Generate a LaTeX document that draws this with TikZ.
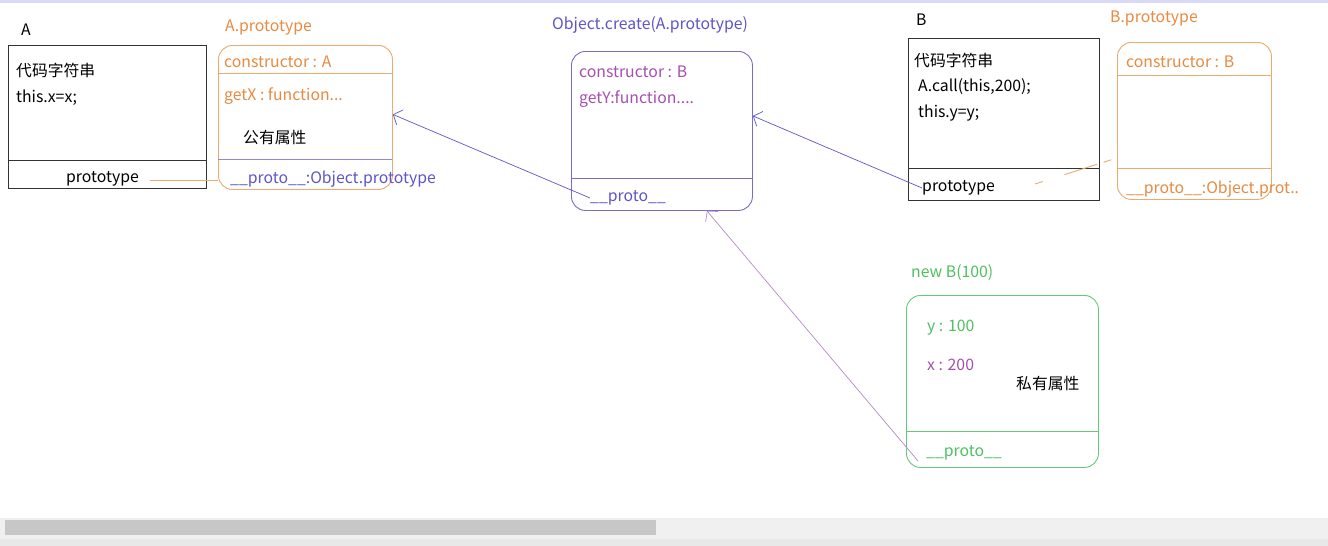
\documentclass[tikz,border=0pt]{standalone}
\usepackage{fontspec}
\setmainfont{Noto Sans CJK SC}
\usetikzlibrary{arrows.meta, positioning}
\definecolor{lineorange}{HTML}{EBAA6E}
\definecolor{textorange}{HTML}{E88A40}
\definecolor{objblue}{HTML}{7A6CC8}
\definecolor{textblue}{HTML}{5D55C8}
\definecolor{textpurple}{HTML}{A64FAE}
\definecolor{linepurple}{HTML}{B58AC8}
\definecolor{instgreen}{HTML}{66C97A}
\definecolor{textgreen}{HTML}{4FC060}
\tikzset{%
	func box/.style={
		draw=black!80,
		line width=0.9pt,
		anchor=north west,
		inner sep=0pt
	},
	round box/.style={
		draw,
		rounded corners=14pt,
		line width=0.9pt,
		anchor=north west,
		inner sep=0pt
	},
	item/.style={
		anchor=west,
		inner sep=0pt,
		yshift=-2pt,
		font=\fontsize{15.8}{17}\selectfont
	},
	link arrow/.style={
		-{Straight Barb[length=7pt,width=16pt]},
		line width=0.7pt
	},
}

\begin{document}
\begin{tikzpicture}[x=1pt,y=-1pt]
		\useasboundingbox (0,0) rectangle (1328,546);
		\fill[white] (0,0) rectangle (1328,546);
		\fill[black!20!blue!15] (0,0) rectangle (1328,3);
		
		% Draw the constructor A
		\node[item] (Alabel) at (21,28) {A};
		\node[func box, minimum width=198pt, minimum height=143pt] (Abox) at (8,45) {};
		\draw[black!80, line width=0.9pt] (8,160) -- (206,160);
		\node[item] (Acode) at (16,68) {代码字符串};
		\node[item] (Athis) at (16,96) {this.x=x;};
		\node[item] (Aproto) at (66,177) {prototype};
		
		% Draw A.prototype
		\node[item, textorange] (Aptlabel) at (225,26) {A.prototype};
		\node[round box, draw=lineorange, minimum width=174pt, minimum height=144pt] (Aptbox) at (218,45) {};
		\draw[lineorange, line width=0.9pt] (218,73) -- (392,73);
		\draw[textblue!70, line width=0.9pt] (218,159) -- (392,159);
		\node[item, textorange] (Aptcons) at (224,60) {constructor : A};
		\node[item, textorange] (Aptget) at (224,94) {getX : function...};
		\node[item] (Aptpub) at (243,136) {公有属性};
		\node[item, textblue] (Aptproto) at (230,177) {\_\_proto\_\_:Object.prototype};
		\coordinate (Aline) at (150,180);
		\draw[lineorange, line width=0.9pt] (Aline) -- (Aptbox.west |- Aline);
		
		% Draw Object.create(A.prototype)
		\node[item, textblue] (Oclabel) at (552,23) {Object.create(A.prototype)};
		\node[round box, draw=objblue, minimum width=181pt, minimum height=159pt] (Ocbox) at (571,51) {};
		\draw[objblue, line width=0.9pt] (571,178) -- (752,178);
		\node[item, textpurple] (Occons) at (579,70) {constructor : B};
		\node[item, textpurple] (Ocget) at (579,97) {getY:function....};
		\node[item, textblue] (Ocproto) at (590,196) {\_\_proto\_\_};
		\draw[link arrow, textblue] (Ocproto.west) -- ([yshift=3pt]Aptbox.east);
		
		% Draw the constructor B
		\node[item] (Blabel) at (916,18) {B};
		\node[func box, minimum width=191pt, minimum height=162pt] (Bbox) at (908,38) {};
		\draw[black!80, line width=0.9pt] (908,168) -- (1099,168);
		\node[item] (Bcode) at (914,58) {代码字符串};
		\node[item] (Bcall) at (918,85) {A.call(this,200);};
		\node[item] (Bthis) at (918,111) {this.y=y;};
		\node[item] (Bproto) at (922,186) {prototype};
		\draw[link arrow, textblue] (Bproto.west) -- ([yshift=15pt]Ocbox.east);
		
		% Draw B.prototype
		\node[item, textorange] (Bptlabel) at (1110,17) {B.prototype};
		\node[round box, draw=lineorange, minimum width=154pt, minimum height=157pt] (Bptbox) at (1117,42) {};
		\draw[lineorange, line width=0.9pt] (1117,75) -- (1271,75);
		\draw[lineorange, line width=0.9pt] (1117,168) -- (1271,168);
		\node[item, textorange] (Bptcons) at (1126,60) {constructor : B};
		\node[item, textorange] (Bptproto) at (1126,187) {\_\_proto\_\_:Object.prot..};
		\coordinate (Bline) at (1035,184);
		\draw[lineorange, line width=0.9pt, dash pattern=on 8pt off 23pt on 34pt off 7pt] (Bline) -- ([yshift=-37pt]Bptbox.west);
		
		% Draw new B(100)
		\node[item, textgreen] (Nlabel) at (911,271) {new B(100)};
		\node[round box, draw=instgreen, minimum width=192pt, minimum height=172pt] (Nbox) at (906,295) {};
		\draw[instgreen, line width=0.9pt] (906,431) -- (1098,431);
		\node[item, textgreen] (Ny) at (927,326) {y : 100};
		\node[item, textpurple] (Nx) at (927,363) {x : 200};
		\node[item] (Npriv) at (1016,381) {私有属性};
		\node[item, textgreen] (Nproto) at (926,451) {\_\_proto\_\_};
		\draw[link arrow, linepurple] ([xshift=-8pt,yshift=-8pt]Nproto.west) -- ([xshift=45pt]Ocbox.south);
		
		% Draw the scroll bar
		\fill[black!6] (0,518) rectangle (1328,539);
		\fill[black!22] (5,520) rectangle (656,535);
		\fill[black!9] (0,539) rectangle (1328,546);
	\end{tikzpicture}
\end{document}
